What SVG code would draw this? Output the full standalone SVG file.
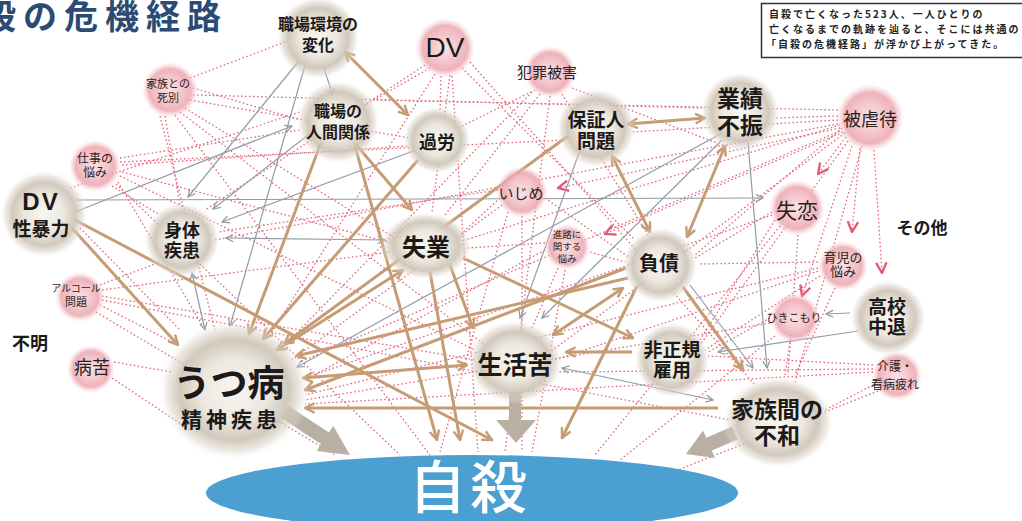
<svg xmlns="http://www.w3.org/2000/svg" width="1022" height="521" viewBox="0 0 1022 521">
<defs>
<radialGradient id="gg">
<stop offset="0" stop-color="#f8f6f2"/>
<stop offset="0.45" stop-color="#ece7df"/>
<stop offset="0.72" stop-color="#cdc3b5" stop-opacity="0.9"/>
<stop offset="0.87" stop-color="#d9d1c5" stop-opacity="0.5"/>
<stop offset="1" stop-color="#ffffff" stop-opacity="0"/>
</radialGradient>
<radialGradient id="pg">
<stop offset="0" stop-color="#f9e2e5"/>
<stop offset="0.5" stop-color="#f3c4ca"/>
<stop offset="0.75" stop-color="#eca5af" stop-opacity="0.85"/>
<stop offset="1" stop-color="#f7d2d7" stop-opacity="0"/>
</radialGradient>
<marker id="ab" viewBox="0 0 10 10" refX="9" refY="5" markerWidth="12" markerHeight="12" markerUnits="userSpaceOnUse" orient="auto-start-reverse">
<path d="M1,1 L9,5 L1,9" fill="none" stroke="#c69c74" stroke-width="2"/>
</marker>
<marker id="ag" viewBox="0 0 10 10" refX="9" refY="5" markerWidth="9" markerHeight="9" markerUnits="userSpaceOnUse" orient="auto-start-reverse">
<path d="M1,1 L9,5 L1,9" fill="none" stroke="#8e9aa6" stroke-width="1.4"/>
</marker>
<marker id="ar" viewBox="0 0 10 10" refX="9" refY="5" markerWidth="13" markerHeight="13" markerUnits="userSpaceOnUse" orient="auto">
<path d="M1,1 L9,5 L1,9" fill="none" stroke="#e45a76" stroke-width="1.8"/>
</marker>
<style>
.r{fill:none;stroke:#e2687e;stroke-width:1.3;stroke-dasharray:1.6 2.4}
.rv{fill:none;stroke:#e2687e;stroke-width:1.3;stroke-dasharray:1.6 2.4;marker-end:url(#ar)}
.g{fill:none;stroke:#909cab;stroke-width:1.2;marker-end:url(#ag)}
.g2{fill:none;stroke:#909cab;stroke-width:1.2;marker-start:url(#ag);marker-end:url(#ag)}
.b{fill:none;stroke:#c69c74;stroke-width:3;marker-end:url(#ab)}
.b2{fill:none;stroke:#c69c74;stroke-width:3;marker-start:url(#ab);marker-end:url(#ab)}
.big{fill:#b9b0a3}
.gn{fill:url(#gg)}
.pn{fill:url(#pg)}
.t{font-family:"Noto Sans CJK JP","Noto Sans",sans-serif;font-weight:700;fill:#1c1a18;text-anchor:middle}
.p{font-family:"Noto Sans CJK JP","Noto Sans",sans-serif;font-weight:400;fill:#2a2222;text-anchor:middle}
.lat{font-family:"Liberation Sans",Arial,sans-serif;text-anchor:middle;fill:#1c1a18}
</style>
</defs>
<rect width="1022" height="521" fill="#ffffff"/>

<g id="title">
<text x="-18" y="29" font-family="Noto Sans CJK JP, sans-serif" font-weight="700" font-size="34" fill="#2c4b72" letter-spacing="7">殺の危機経路</text>
</g>

<g id="note">
<rect x="761.5" y="3.5" width="265" height="54" fill="#ffffff" stroke="#333333" stroke-width="1.5"/>
<text font-family="Noto Sans CJK JP, sans-serif" font-weight="700" font-size="10" fill="#222" letter-spacing="2">
<tspan x="769" y="18">自殺で亡くなった523人、一人ひとりの</tspan>
<tspan x="769" y="33">亡くなるまでの軌跡を辿ると、そこには共通の</tspan>
<tspan x="766" y="48">「自殺の危機経路」が浮かび上がってきた。</tspan>
</text>
</g>

<g id="connectors">
<path class="r" d="M190,78 L285,42"/>
<path class="r" d="M193,95 L705,108"/>
<path class="r" d="M193,88 L300,120"/>
<path class="r" d="M190,100 L410,138"/>
<path class="r" d="M185,108 L395,238"/>
<path class="r" d="M180,112 L485,345"/>
<path class="r" d="M175,115 L430,455"/>
<path class="r" d="M160,116 L215,330"/>
<path class="r" d="M165,116 L180,205"/>
<path class="r" d="M120,158 L300,130"/>
<path class="r" d="M122,165 L408,146"/>
<path class="r" d="M122,172 L392,243"/>
<path class="r" d="M118,182 L205,330"/>
<path class="r" d="M112,186 L160,215"/>
<path class="r" d="M120,176 L475,350"/>
<path class="r" d="M116,184 L400,455"/>
<path class="r" d="M120,162 L565,140"/>
<path class="r" d="M430,68 L365,105"/>
<path class="r" d="M441,76 L440,112"/>
<path class="r" d="M450,75 L432,212"/>
<path class="r" d="M462,68 L635,240"/>
<path class="r" d="M425,65 L205,210"/>
<path class="r" d="M435,74 L270,335"/>
<path class="r" d="M452,76 L478,452"/>
<path class="r" d="M470,62 L755,385"/>
<path class="r" d="M535,90 L458,128"/>
<path class="r" d="M540,94 L445,215"/>
<path class="r" d="M562,94 L648,235"/>
<path class="r" d="M532,92 L285,345"/>
<path class="r" d="M550,96 L505,452"/>
<path class="r" d="M572,88 L730,148"/>
<path class="r" d="M838,110 L375,100"/>
<path class="r" d="M838,116 L775,118"/>
<path class="r" d="M838,120 L632,132"/>
<path class="r" d="M840,125 L465,240"/>
<path class="r" d="M842,128 L695,255"/>
<path class="r" d="M840,131 L300,362"/>
<path class="r" d="M845,133 L550,352"/>
<path class="r" d="M862,146 L795,382"/>
<path class="r" d="M848,141 L700,345"/>
<path class="r" d="M838,124 L215,240"/>
<path class="rv" d="M846,137 L818,174"/>
<path class="rv" d="M860,148 L852,232"/>
<path class="rv" d="M874,150 L882,273"/>
<path class="rv" d="M852,146 L802,296"/>
<path class="rv" d="M840,128 L558,188"/>
<path class="rv" d="M843,132 L605,234"/>
<path class="r" d="M500,198 L460,235"/>
<path class="r" d="M502,205 L292,360"/>
<path class="r" d="M522,216 L522,452"/>
<path class="r" d="M545,198 L630,258"/>
<path class="r" d="M498,190 L218,232"/>
<path class="r" d="M508,212 L440,452"/>
<path class="r" d="M772,212 L695,258"/>
<path class="r" d="M772,215 L305,378"/>
<path class="r" d="M780,226 L595,455"/>
<path class="r" d="M798,235 L788,375"/>
<path class="r" d="M775,220 L700,340"/>
<path class="r" d="M545,250 L305,380"/>
<path class="r" d="M545,243 L468,248"/>
<path class="r" d="M565,270 L532,452"/>
<path class="r" d="M558,268 L532,328"/>
<path class="r" d="M590,252 L625,262"/>
<path class="r" d="M818,262 L698,264"/>
<path class="r" d="M818,268 L305,395"/>
<path class="r" d="M835,288 L795,375"/>
<path class="r" d="M818,271 L555,360"/>
<path class="r" d="M820,276 L705,350"/>
<path class="r" d="M790,342 L785,375"/>
<path class="r" d="M770,318 L708,352"/>
<path class="r" d="M770,323 L305,400"/>
<path class="r" d="M775,336 L620,460"/>
<path class="r" d="M100,285 L160,262"/>
<path class="r" d="M100,305 L178,345"/>
<path class="r" d="M102,290 L390,252"/>
<path class="r" d="M96,312 L335,455"/>
<path class="r" d="M102,300 L730,420"/>
<path class="r" d="M102,296 L475,360"/>
<path class="r" d="M114,362 L172,372"/>
<path class="r" d="M112,378 L190,430"/>
<path class="r" d="M873,385 L825,410"/>
<path class="r" d="M873,372 L305,404"/>
<path class="r" d="M878,391 L665,475"/>
<path class="r" d="M873,365 L708,356"/>
<path class="r" d="M873,369 L558,372"/>
<path class="r" d="M70,188 L300,112"/>
<path class="r" d="M80,228 L180,330"/>

<path class="g" d="M322,62 L333,96"/>
<path class="g" d="M298,62 L188,197"/>
<path class="g" d="M312,132 L213,209"/>
<path class="g" d="M416,150 L222,222"/>
<path class="g" d="M306,62 L230,326"/>
<path class="g" d="M75,212 L292,126"/>
<path class="g" d="M76,200 L763,198"/>
<path class="g2" d="M226,238 L385,240"/>
<path class="g2" d="M192,273 L205,330"/>
<path class="g" d="M722,133 L297,367"/>
<path class="g" d="M722,140 L542,318"/>
<path class="g" d="M580,150 L520,318"/>
<path class="g" d="M748,142 L767,368"/>
<path class="g" d="M690,285 L753,368"/>
<path class="g" d="M850,313 L826,314"/>
<path class="g" d="M858,331 L718,352"/>
<path class="g2" d="M562,368 L713,400"/>

<path class="b2" d="M345,52 L408,115"/>
<path class="b2" d="M628,124 L705,118"/>
<path class="b2" d="M612,156 L650,232"/>
<path class="b2" d="M725,146 L687,237"/>
<path class="b" d="M683,287 L743,370"/>
<path class="b" d="M637,286 L562,438"/>
<path class="b2" d="M623,288 L553,335"/>
<path class="b" d="M463,258 L633,338"/>
<path class="b" d="M632,352 L566,352"/>
<path class="b2" d="M277,350 L403,270"/>
<path class="b2" d="M303,378 L467,365"/>
<path class="b" d="M718,408 L305,408"/>
<path class="b" d="M626,268 L305,390"/>
<path class="b" d="M352,140 L412,210"/>
<path class="b" d="M355,146 L437,440"/>
<path class="b" d="M430,272 L460,440"/>
<path class="b" d="M450,265 L473,328"/>
<path class="b" d="M72,228 L178,345"/>
<path class="b" d="M75,220 L492,440"/>
<path class="b" d="M322,140 L249,334"/>
<path class="b" d="M418,160 L263,339"/>
<path class="b" d="M568,136 L284,344"/>
<path class="b" d="M628,278 L296,356"/>

<polygon class="big" points="288.9,406.2 328.9,432.6 333.3,425.9 350,455 316.7,450.9 321.1,444.2 281.1,417.8"/>
<polygon class="big" points="509,392 521,392 521,420 536,420 516,443 496,420 509,420"/>
<polygon class="big" points="732.2,426.6 706.2,437.8 703.1,430.4 686,454 714.9,458 711.8,450.6 737.8,439.4"/>
</g>

<g id="n-shokuba-kankyo"><circle class="gn" cx="318" cy="38" r="42"/><text class="t" font-size="16"><tspan x="318" y="30">職場環境の</tspan><tspan x="318" y="51">変化</tspan></text></g>
<g id="n-shokuba-ningen"><circle class="gn" cx="338" cy="122" r="42"/><text class="t" font-size="16"><tspan x="338" y="117">職場の</tspan><tspan x="338" y="138">人間関係</tspan></text></g>
<g id="n-karou"><circle class="gn" cx="437" cy="140" r="34"/><text class="t" x="437" y="149" font-size="18">過労</text></g>
<g id="n-hoshonin"><circle class="gn" cx="596" cy="128" r="40"/><text class="t" font-size="19"><tspan x="596" y="127">保証人</tspan><tspan x="596" y="148">問題</tspan></text></g>
<g id="n-gyoseki"><circle class="gn" cx="740" cy="112" r="40"/><text class="t" font-size="23"><tspan x="740" y="107">業績</tspan><tspan x="740" y="134">不振</tspan></text></g>
<g id="n-dv-seibo"><circle class="gn" cx="44" cy="214" r="44"/><text class="lat" x="41" y="210" font-size="24" font-weight="700" letter-spacing="2">DV</text><text class="t" x="41" y="236" font-size="19">性暴力</text></g>
<g id="n-shintai"><circle class="gn" cx="182" cy="240" r="38"/><text class="t" font-size="18"><tspan x="182" y="237">身体</tspan><tspan x="182" y="257">疾患</tspan></text></g>
<g id="n-shitsugyo"><ellipse class="gn" cx="426" cy="246" rx="46" ry="34"/><text class="t" x="426" y="256" font-size="24">失業</text></g>
<g id="n-fusai"><circle class="gn" cx="660" cy="265" r="38"/><text class="t" x="659" y="271" font-size="20">負債</text></g>
<g id="n-koko"><circle class="gn" cx="888" cy="318" r="38"/><text class="t" font-size="19"><tspan x="887" y="314">高校</tspan><tspan x="887" y="334">中退</tspan></text></g>
<g id="n-hiseiki"><circle class="gn" cx="672" cy="360" r="38"/><text class="t" font-size="19"><tspan x="672" y="357">非正規</tspan><tspan x="672" y="377">雇用</tspan></text></g>
<g id="n-seikatsu"><ellipse class="gn" cx="515" cy="362" rx="48" ry="42"/><text class="t" x="515" y="374" font-size="25">生活苦</text></g>
<g id="n-utsu"><ellipse class="gn" cx="234" cy="390" rx="76" ry="70"/><text class="t" x="229" y="397" font-size="37">うつ病</text><text class="t" x="231" y="427" font-size="21" letter-spacing="4">精神疾患</text></g>
<g id="n-kazoku-fuwa"><ellipse class="gn" cx="778" cy="422" rx="56" ry="46"/><text class="t" font-size="23"><tspan x="777" y="418">家族間の</tspan><tspan x="777" y="444">不和</tspan></text></g>

<g id="n-dv"><circle class="pn" cx="445" cy="48" r="30"/><text class="lat" x="445" y="57" font-size="28">DV</text></g>
<g id="n-hanzai"><circle class="pn" cx="550" cy="72" r="26"/><text class="p" x="547" y="78" font-size="15">犯罪被害</text></g>
<g id="n-shibetsu"><circle class="pn" cx="170" cy="90" r="28"/><text class="p" font-size="11"><tspan x="168" y="88">家族との</tspan><tspan x="168" y="102">死別</tspan></text></g>
<g id="n-shigoto"><circle class="pn" cx="95" cy="166" r="26"/><text class="p" font-size="12"><tspan x="95" y="163">仕事の</tspan><tspan x="95" y="177">悩み</tspan></text></g>
<g id="n-gyakutai"><circle class="pn" cx="870" cy="118" r="34"/><text class="p" x="870" y="126" font-size="18">被虐待</text></g>
<g id="n-ijime"><circle class="pn" cx="522" cy="192" r="26"/><text class="p" x="521" y="199" font-size="15">いじめ</text></g>
<g id="n-shitsuren"><circle class="pn" cx="797" cy="208" r="28"/><text class="p" x="797" y="218" font-size="21">失恋</text></g>
<g id="n-shinro"><circle class="pn" cx="567" cy="247" r="23"/><text class="p" font-size="9.5"><tspan x="567" y="238">進路に</tspan><tspan x="567" y="250">関する</tspan><tspan x="567" y="262">悩み</tspan></text></g>
<g id="n-ikuji"><circle class="pn" cx="843" cy="266" r="25"/><text class="p" font-size="13"><tspan x="843" y="262">育児の</tspan><tspan x="843" y="276">悩み</tspan></text></g>
<g id="n-hikikomori"><circle class="pn" cx="795" cy="318" r="25"/><text class="p" x="794" y="322" font-size="11">ひきこもり</text></g>
<g id="n-alcohol"><circle class="pn" cx="80" cy="297" r="25"/><text class="p" font-size="10"><tspan x="76" y="292">アルコール</tspan><tspan x="76" y="306" font-size="11">問題</tspan></text></g>
<g id="n-byoku"><circle class="pn" cx="91" cy="369" r="24"/><text class="p" x="92" y="374" font-size="18">病苦</text></g>
<g id="n-kaigo"><circle class="pn" cx="897" cy="376" r="25"/><text class="p" font-size="12"><tspan x="895" y="371">介護・</tspan><tspan x="895" y="389">看病疲れ</tspan></text></g>

<g id="n-fumei"><text class="t" x="30" y="350" font-size="18">不明</text></g>
<g id="n-sonota"><text class="t" x="922" y="234" font-size="17">その他</text></g>

<g id="n-jisatsu"><ellipse cx="472" cy="493" rx="266" ry="38" fill="#4c9fd1"/><text x="470" y="508" font-family="Noto Sans CJK JP, sans-serif" font-weight="500" font-size="57" fill="#ffffff" text-anchor="middle" letter-spacing="4">自殺</text></g>
</svg>
